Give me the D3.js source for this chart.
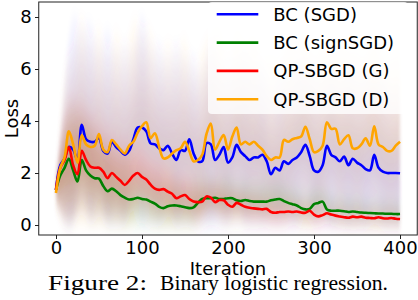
<!DOCTYPE html>
<meta charset='utf-8'>
<style>
  body { margin: 0; background: #fff; }
  svg text { font-family: 'DejaVu Sans', sans-serif; fill: #000; }
  .axis path, .axis line { stroke: #222; stroke-width: 1; shape-rendering: crispEdges; }
  .axis text { font-size: 18px; font-family: 'DejaVu Sans', sans-serif; }
  .caption { font-family: 'Liberation Serif', 'Times New Roman', serif; }
</style>
<body>
<script src='https://cdn.jsdelivr.net/npm/d3@7'></script>
<script>
  // iterations 0..400, step 5
  const iters = d3.range(0, 401, 5)

  const bcSgd = [1.35, 2.3, 2.55, 3.0, 2.9, 2.5, 3.85, 3.3, 3.2, 3.2, 3.35, 2.85, 2.75, 3.2, 3.0, 2.85, 2.7,
    2.85, 3.3, 3.75, 3.75, 3.6, 3.14, 3.1, 2.95, 2.88, 3.05, 2.75, 2.5, 2.88, 2.85, 3.3, 2.75, 2.45, 2.45,
    3.15, 3.1, 2.5, 2.7, 3.0, 2.4, 2.6, 3.08, 2.8, 2.65, 2.5, 2.6, 2.6, 2.7, 2.45, 1.95, 2.2, 2.1, 2.45,
    2.35, 2.5, 2.6, 2.8, 3.08, 2.65, 2.1, 2.05, 2.3, 3.05, 2.7, 2.6, 2.45, 2.63, 2.3, 2.55, 2.4, 2.3, 2.15,
    2.1, 2.7, 2.2, 2.05, 2.0, 2.0, 2.0, 1.99]
  const bcSign = [1.35, 1.9, 2.2, 2.55, 2.1, 1.67, 2.5, 2.1, 1.9, 1.8, 1.78, 1.5, 1.3, 1.4, 1.3, 1.15, 1.05,
    0.98, 1.0, 1.05, 1.0, 0.98, 0.9, 0.82, 0.7, 0.65, 0.72, 0.75, 0.75, 0.72, 0.68, 0.65, 0.68, 0.85, 1.0,
    1.03, 1.03, 1.05, 1.0, 1.0, 1.03, 1.03, 0.95, 0.92, 0.96, 0.92, 0.9, 0.9, 0.9, 0.9, 0.95, 0.98, 1.0,
    0.92, 0.85, 0.8, 0.75, 0.65, 0.6, 0.62, 0.8, 0.85, 0.9, 0.6, 0.55, 0.55, 0.55, 0.53, 0.5, 0.52, 0.5,
    0.48, 0.47, 0.46, 0.45, 0.44, 0.44, 0.43, 0.43, 0.42, 0.42]
  const qpG = [1.35, 2.2, 2.5, 3.0, 2.3, 1.95, 2.85, 2.5, 2.25, 2.2, 2.2, 2.05, 1.8, 2.0, 1.85, 1.7, 1.54,
    1.7, 1.9, 2.0, 1.85, 1.75, 1.55, 1.4, 1.35, 1.38, 1.28, 1.2, 1.03, 1.1, 1.15, 1.0, 0.9, 0.88, 0.9,
    1.1, 1.05, 0.88, 0.96, 0.95, 0.78, 0.7, 0.85, 0.78, 0.7, 0.66, 0.64, 0.62, 0.6, 0.62, 0.5, 0.47, 0.5,
    0.5, 0.52, 0.5, 0.52, 0.48, 0.47, 0.55, 0.4, 0.33, 0.38, 0.45, 0.4, 0.36, 0.33, 0.3, 0.28, 0.32, 0.3,
    0.32, 0.28, 0.27, 0.26, 0.3, 0.26, 0.25, 0.27, 0.24, 0.23]
  const qpD = [1.23, 2.2, 2.6, 3.6, 3.1, 2.4, 3.45, 3.1, 3.0, 3.05, 3.5, 2.9, 2.8, 3.27, 3.1, 2.9, 2.75,
    3.05, 3.2, 3.55, 3.8, 3.95, 3.34, 3.53, 3.0, 2.56, 2.6, 2.75, 2.88, 2.95, 3.2, 2.85, 2.45, 2.5, 2.7,
    3.5, 3.9, 2.9, 3.2, 3.46, 2.9, 3.4, 3.75, 3.1, 3.2, 3.1, 3.2, 3.05, 2.9, 2.65, 2.5, 2.6, 2.6, 3.27,
    3.2, 3.3, 3.35, 3.4, 3.78, 3.3, 2.8, 2.85, 3.05, 3.95, 3.7, 3.7, 3.1, 3.3, 3.45, 2.95, 2.95, 3.1,
    3.33, 3.05, 3.8, 3.1, 3.0, 2.85, 2.85, 3.05, 3.2]

  // spread of the shaded bands, every 10 iterations
  const bandIters = d3.range(0, 401, 10)
  const sdSgd = [0.2, 1.4, 2.3, 1.3, 2.0, 1.2, 2.1, 1.3, 1.8, 1.2, 2.0, 1.3, 1.7, 1.2, 1.9, 1.3, 1.6, 1.2,
    1.8, 1.3, 1.7, 1.2, 1.8, 1.3, 1.6, 1.2, 1.8, 1.3, 1.6, 1.2, 1.7, 1.3, 1.6, 1.2, 1.7, 1.3, 1.6, 1.2,
    1.6, 1.3, 1.4]
  const sdSign = [0.2, 0.9, 1.1, 0.7, 0.9, 0.6, 0.8, 0.55, 0.7, 0.5, 0.6, 0.45, 0.55, 0.4, 0.5, 0.35, 0.45,
    0.35, 0.4, 0.3, 0.4, 0.3, 0.35, 0.28, 0.33, 0.25, 0.3, 0.25, 0.3, 0.22, 0.28, 0.2, 0.25, 0.2, 0.25,
    0.2, 0.22, 0.18, 0.2, 0.18, 0.2]
  const sdG = [0.2, 1.0, 1.1, 0.8, 0.9, 0.7, 0.8, 0.6, 0.7, 0.5, 0.55, 0.45, 0.5, 0.4, 0.4, 0.35, 0.35,
    0.3, 0.3, 0.25, 0.28, 0.22, 0.25, 0.2, 0.22, 0.18, 0.2, 0.16, 0.18, 0.15, 0.16, 0.14, 0.15, 0.13,
    0.14, 0.12, 0.13, 0.12, 0.12, 0.11, 0.11]
  const sdD = [0.2, 1.7, 1.3, 2.1, 1.3, 1.9, 1.2, 2.0, 1.3, 2.1, 1.3, 1.8, 1.2, 1.9, 1.3, 1.8, 1.2, 1.7,
    1.3, 1.9, 1.2, 1.7, 1.3, 1.8, 1.2, 1.7, 1.3, 1.8, 1.2, 1.7, 1.3, 1.8, 1.2, 1.7, 1.3, 1.6, 1.2, 1.7,
    1.3, 1.5, 1.4]

  const labels = ['BC (SGD)', 'BC (signSGD)', 'QP-SBGD (G)', 'QP-SBGD (D)']
  const colors = ['blue', 'green', 'red', 'orange']
  const xTicks = [0, 100, 200, 300, 400]
  const yTicks = [0, 2, 4, 6, 8]

  const series = [
    {name: labels[0], color: colors[0], vals: bcSgd, sd: sdSgd},
    {name: labels[1], color: colors[1], vals: bcSign, sd: sdSign},
    {name: labels[2], color: colors[2], vals: qpG, sd: sdG},
    {name: labels[3], color: colors[3], vals: qpD, sd: sdD}
  ]

  const W = 418, H = 300
  const plot = {left: 38.75, right: 417.25, top: 2, bottom: 235}

  const x = d3.scaleLinear().domain([-20, 420]).range([plot.left, plot.right])
  const y = d3.scaleLinear().domain([-0.385, 8.577]).range([plot.bottom, plot.top])

  const svg = d3.select('body').append('svg')
    .attr('width', W).attr('height', H)

  const defs = svg.append('defs')
  defs.append('clipPath').attr('id', 'clip')
    .append('rect')
    .attr('x', plot.left).attr('y', plot.top)
    .attr('width', plot.right - plot.left).attr('height', plot.bottom - plot.top)
  defs.append('filter').attr('id', 'soft')
    .attr('x', '-10%').attr('y', '-30%').attr('width', '120%').attr('height', '160%')
    .append('feGaussianBlur').attr('stdDeviation', '1.5 8')

  // shaded bands
  const bands = svg.append('g').attr('clip-path', 'url(#clip)')
    .append('g').attr('filter', 'url(#soft)')
  const ks = [0.5, 1, 1.5, 2, 2.5]
  series.forEach(s => {
    const pts = bandIters.map((it, i) => ({it, m: s.vals[i * 2], sd: s.sd[i]}))
    ks.forEach(k => {
      const area = d3.area()
        .x(d => x(d.it))
        .y0(d => y(Math.max(0, d.m - k * d.sd)))
        .y1(d => y(d.m + k * d.sd))
        .curve(d3.curveBasis)
      bands.append('path')
        .attr('d', area(pts))
        .attr('fill', s.color)
        .attr('fill-opacity', 0.04)
    })
  })

  // mean lines
  const line = d3.line()
    .x((d, i) => x(iters[i]))
    .y(d => y(d))
    .curve(d3.curveCatmullRom.alpha(0.5))
  const lines = svg.append('g').attr('clip-path', 'url(#clip)')
  series.forEach(s => {
    lines.append('path')
      .attr('d', line(s.vals))
      .attr('fill', 'none')
      .attr('stroke', s.color)
      .attr('stroke-width', 2.6)
      .attr('stroke-linejoin', 'round')
  })

  // frame
  svg.append('rect')
    .attr('x', plot.left).attr('y', plot.top)
    .attr('width', plot.right - plot.left).attr('height', plot.bottom - plot.top)
    .attr('fill', 'none').attr('stroke', '#222').attr('stroke-width', 1)

  svg.append('g').attr('class', 'axis')
    .attr('transform', `translate(0, ${plot.bottom})`)
    .call(d3.axisBottom(x).tickValues(xTicks).tickSize(4).tickPadding(2))
    .call(g => g.select('.domain').remove())

  svg.append('g').attr('class', 'axis')
    .attr('transform', `translate(${plot.left}, 0)`)
    .call(d3.axisLeft(y).tickValues(yTicks).tickSize(4).tickPadding(3))
    .call(g => g.select('.domain').remove())

  svg.append('text')
    .attr('transform', `translate(11, ${(plot.top + plot.bottom) / 2}) rotate(-90)`)
    .attr('text-anchor', 'middle').attr('dominant-baseline', 'central')
    .attr('font-size', 18).text('Loss')

  svg.append('text')
    .attr('x', (plot.left + plot.right) / 2).attr('y', 275)
    .attr('text-anchor', 'middle').attr('font-size', 18).text('Iteration')

  // legend
  const leg = svg.append('g')
  leg.append('rect')
    .attr('x', 208).attr('y', 2).attr('width', 200).attr('height', 112)
    .attr('rx', 4).attr('fill', '#fff').attr('fill-opacity', 0.8)
  series.forEach((s, i) => {
    const ly = 14.3 + i * 28.3
    leg.append('line')
      .attr('x1', 216.7).attr('x2', 258.3).attr('y1', ly).attr('y2', ly)
      .attr('stroke', s.color).attr('stroke-width', 2.6)
    leg.append('text')
      .attr('x', 273.3).attr('y', ly).attr('dominant-baseline', 'central')
      .attr('font-size', 18).text(s.name)
  })

  // caption
  svg.append('text').attr('class', 'caption')
    .attr('x', 48).attr('y', 290).attr('font-size', 22)
    .attr('textLength', 99).attr('lengthAdjust', 'spacingAndGlyphs')
    .text('Figure 2:')
  svg.append('text').attr('class', 'caption')
    .attr('x', 160).attr('y', 290).attr('font-size', 20)
    .attr('textLength', 228).attr('lengthAdjust', 'spacingAndGlyphs')
    .text('Binary logistic regression.')
</script>
</body>
